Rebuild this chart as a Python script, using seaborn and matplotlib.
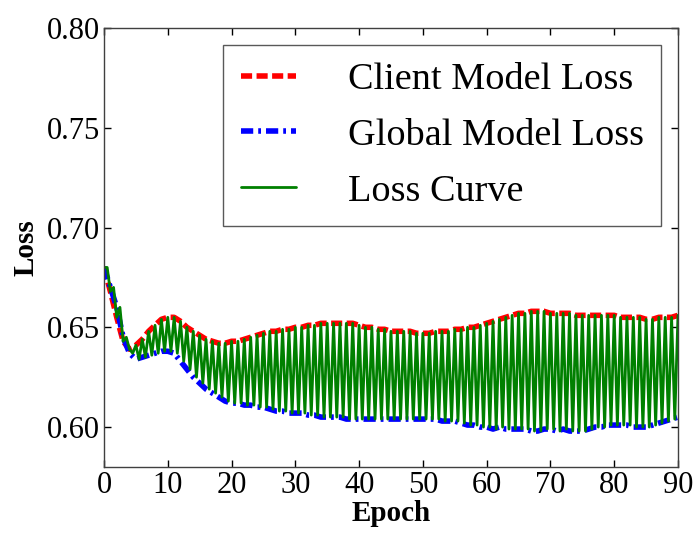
import numpy as np
import matplotlib
matplotlib.use("Agg")
import matplotlib.pyplot as plt
import seaborn as sns
import pandas as pd

epochs = list(range(0, 91))
client_loss = [
    0.680, 0.668, 0.655, 0.643, 0.639, 0.641, 0.644, 0.648, 0.651, 0.654,
    0.655, 0.655, 0.653, 0.650, 0.648, 0.646, 0.644, 0.643, 0.642, 0.642,
    0.643, 0.643, 0.644, 0.645, 0.646, 0.647, 0.648, 0.648, 0.649, 0.649,
    0.650, 0.650, 0.651, 0.651, 0.652, 0.652, 0.652, 0.652, 0.652, 0.652,
    0.651, 0.650, 0.650, 0.649, 0.649, 0.648, 0.648, 0.648, 0.648, 0.647,
    0.647, 0.647, 0.648, 0.648, 0.648, 0.649, 0.649, 0.650, 0.650, 0.651,
    0.652, 0.653, 0.654, 0.655, 0.656, 0.657, 0.657, 0.658, 0.658, 0.658,
    0.657, 0.657, 0.657, 0.657, 0.656, 0.656, 0.656, 0.656, 0.656, 0.656,
    0.656, 0.655, 0.655, 0.655, 0.655, 0.654, 0.654, 0.655, 0.655, 0.655,
    0.656,
]
global_loss = [
    0.680, 0.670, 0.660, 0.645, 0.637, 0.634, 0.635, 0.636, 0.637, 0.638,
    0.638, 0.637, 0.633, 0.629, 0.625, 0.622, 0.619, 0.617, 0.615, 0.613,
    0.612, 0.612, 0.611, 0.611, 0.610, 0.610, 0.609, 0.608, 0.608, 0.607,
    0.607, 0.607, 0.606, 0.606, 0.605, 0.605, 0.605, 0.605, 0.604, 0.604,
    0.604, 0.604, 0.604, 0.604, 0.604, 0.604, 0.604, 0.604, 0.604, 0.604,
    0.604, 0.604, 0.604, 0.603, 0.603, 0.603, 0.602, 0.601, 0.601, 0.600,
    0.600, 0.599, 0.600, 0.599, 0.599, 0.599, 0.599, 0.598, 0.598, 0.599,
    0.599, 0.598, 0.599, 0.598, 0.598, 0.598, 0.599, 0.600, 0.600, 0.601,
    0.601, 0.601, 0.601, 0.600, 0.600, 0.600, 0.601, 0.602, 0.603, 0.604,
    0.605,
]
x_ticks = [0, 10, 20, 30, 40, 50, 60, 70, 80, 90]
y_ticks = [0.60, 0.65, 0.70, 0.75, 0.80]

sns.set_theme(style="ticks")
plt.rcParams["font.family"] = ["Liberation Serif", "DejaVu Serif"]
plt.rcParams.update({
    "xtick.direction": "in", "ytick.direction": "in",
    "xtick.top": True, "ytick.right": True,
    "text.color": "black", "axes.labelcolor": "black",
    "xtick.color": "black", "ytick.color": "black",
    "xtick.labelcolor": "black", "ytick.labelcolor": "black",
})

fig = plt.figure(figsize=(6.97, 5.38), dpi=100)
ax = fig.add_axes([0.1492, 0.132, 0.8235, 0.816])

# Interleave client (at each epoch) and global (half an epoch later) for the loss curve
curve_x, curve_y = [], []
for e, c, g in zip(epochs, client_loss, global_loss):
    curve_x += [e, e + 0.5]
    curve_y += [c, g]

sns.lineplot(x=epochs, y=client_loss, ax=ax, color="red", lw=4,
             linestyle=(0, (2, 0.8)), label="Client Model Loss")
sns.lineplot(x=epochs, y=global_loss, ax=ax, color="blue", lw=4,
             linestyle=(0, (2.2, 0.9, 0.5, 0.9)), label="Global Model Loss")
sns.lineplot(x=curve_x, y=curve_y, ax=ax, color="green", lw=2,
             sort=False, label="Loss Curve")

ax.set_xlim(0, 90)
ax.set_ylim(0.58, 0.80)
ax.set_xticks(x_ticks)
ax.set_yticks(y_ticks)
ax.set_yticklabels([f"{v:.2f}" for v in y_ticks])
ax.tick_params(labelsize=22, length=5, width=1, colors="black", pad=3)
for s in ax.spines.values():
    s.set_color("0.25")
    s.set_linewidth(1)

ax.set_xlabel("Epoch", fontsize=21, fontweight="bold", labelpad=0)
ax.set_ylabel("Loss", fontsize=21, fontweight="bold", labelpad=5)

leg = ax.legend(loc="upper right", fontsize=27.5, frameon=True, fancybox=False,
                edgecolor="0.35", framealpha=1, handlelength=1.45,
                handletextpad=1.35, borderpad=0.45, labelspacing=0.55,
                borderaxespad=0.45)
leg.get_frame().set_linewidth(1)

fig.savefig("out.png", dpi=100)
